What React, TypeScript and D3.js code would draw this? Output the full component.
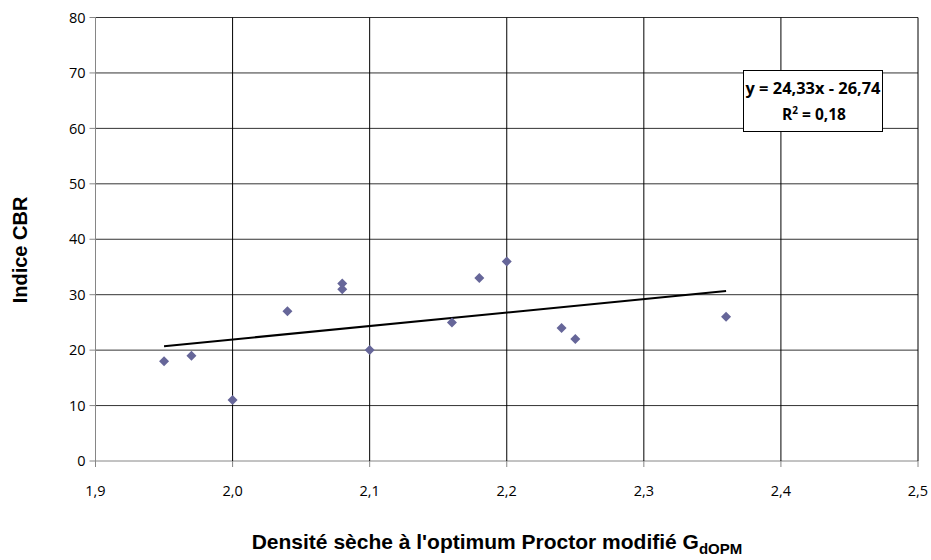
import React from "react";
import * as d3 from "d3";

const xValues = [1.95, 1.97, 2.0, 2.04, 2.08, 2.08, 2.1, 2.16, 2.18, 2.2, 2.24, 2.25, 2.36];
const yValues = [18, 19, 11, 27, 32, 31, 20, 25, 33, 36, 24, 22, 26];
const xTicks = [1.9, 2.0, 2.1, 2.2, 2.3, 2.4, 2.5];
const yTicks = [0, 10, 20, 30, 40, 50, 60, 70, 80];
const slope = 24.33;
const intercept = -26.74;

export default function App() {
  const W = 931, H = 560;
  const left = 95.5, right = 918, top = 17.5, bottom = 461;
  const x = d3.scaleLinear().domain([1.9, 2.5]).range([left, right]);
  const y = d3.scaleLinear().domain([0, 80]).range([bottom, top]);
  const fmt = (v: number) => v.toFixed(1).replace(".", ",");
  const xMin = d3.min(xValues)!, xMax = d3.max(xValues)!;
  const line = d3.line<number>().x(d => x(d)).y(d => y(slope * d + intercept));
  const diamond = d3.symbol().type(d3.symbolSquare).size(50)();
  const tickFont = "'Open Sans', Lato, sans-serif";
  const titleFont = "'Liberation Sans', Arial, sans-serif";
  return (
    <svg width={W} height={H} style={{ position: "absolute", left: 0, top: 0, background: "#fff" }}>
      {yTicks.map(t => (
        <line key={"hy" + t} x1={left} x2={right} y1={y(t)} y2={y(t)} stroke={t === 0 ? "#868686" : "#333"} strokeWidth={1} />
      ))}
      {xTicks.map(t => (
        <line key={"vx" + t} x1={x(t)} x2={x(t)} y1={top} y2={bottom} stroke={t === 1.9 ? "#868686" : "#000"} strokeWidth={1} />
      ))}
      {yTicks.map(t => (
        <g key={"yt" + t}>
          <line x1={left - 6} x2={left} y1={y(t)} y2={y(t)} stroke="#868686" />
          <text x={left - 10} y={y(t)} dy="0.36em" textAnchor="end" fontSize={14.5} fontFamily={tickFont} fill="#000">{t}</text>
        </g>
      ))}
      {xTicks.map(t => (
        <g key={"xt" + t}>
          <line x1={x(t)} x2={x(t)} y1={bottom} y2={bottom + 6} stroke="#868686" />
          <text x={x(t)} y={bottom + 35} textAnchor="middle" fontSize={14.5} fontFamily={tickFont} fill="#000">{fmt(t)}</text>
        </g>
      ))}
      <path d={line([xMin, xMax]) || ""} stroke="#000" strokeWidth={2} fill="none" />
      {xValues.map((v, i) => (
        <path key={"p" + i} d={diamond || ""} transform={`translate(${x(v)},${y(yValues[i])}) rotate(45)`} fill="#666699" />
      ))}
      <rect x={743.5} y={70.5} width={139} height={61} fill="#fff" stroke="#000" strokeWidth={1} />
      <text x={813} y={94} textAnchor="middle" fontSize={15.5} fontWeight="bold" fontFamily={tickFont} textLength={135} lengthAdjust="spacingAndGlyphs">y = 24,33x - 26,74</text>
      <text x={814} y={120} textAnchor="middle" fontSize={15.5} fontWeight="bold" fontFamily={tickFont}>
        R<tspan dy={-6} fontSize={10}>2</tspan><tspan dy={6}> = 0,18</tspan>
      </text>
      <text transform={`translate(27,250) rotate(-90)`} textAnchor="middle" fontSize={20} fontWeight="bold" fontFamily={titleFont}>Indice CBR</text>
      <text x={497} y={549} textAnchor="middle" fontSize={21} fontWeight="bold" fontFamily={titleFont}>
        Densité sèche à l'optimum Proctor modifié G<tspan dy={5} fontSize={15}>dOPM</tspan>
      </text>
    </svg>
  );
}
